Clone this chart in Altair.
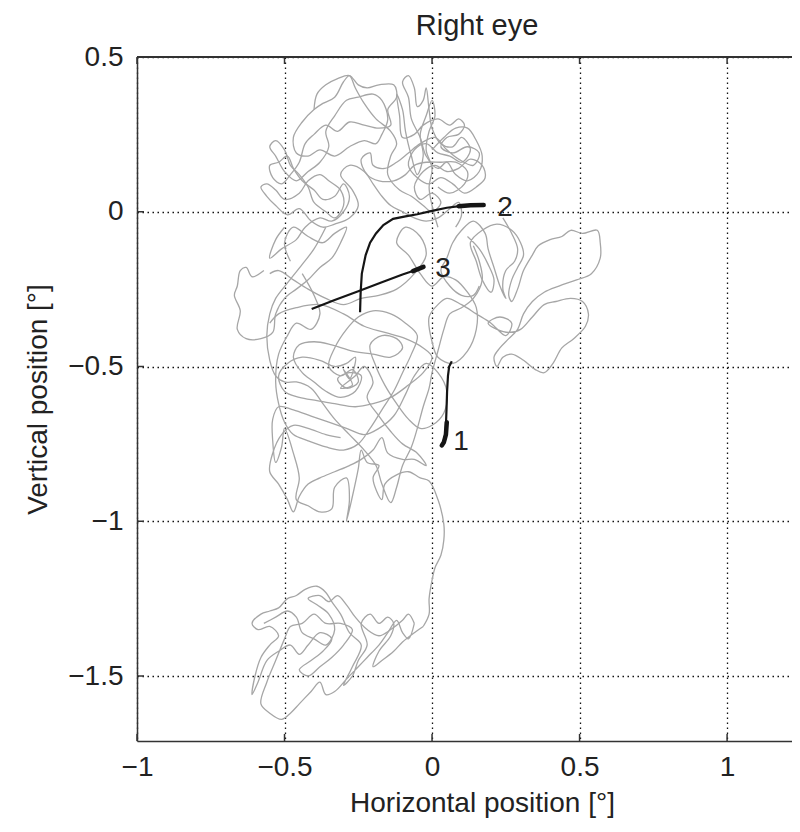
import altair as alt
import pandas as pd

# ---------------- data (degrees) ----------------
x_ticks = [-1, -0.5, 0, 0.5, 1]
y_ticks = [-1.5, -1, -0.5, 0, 0.5]
title_text = ["Right eye"]

# grey fixational eye-movement trace, read region by region
gray_top = [
    (0.0, 0.2), (0.04, 0.24), (0.08, 0.27), (0.12, 0.27), (0.15, 0.23), (0.17, 0.18), (0.16, 0.13),
    (0.12, 0.10), (0.08, 0.12), (0.05, 0.16), (0.02, 0.14), (-0.02, 0.18), (-0.04, 0.24), (-0.07, 0.30),
    (-0.08, 0.37), (-0.10, 0.42), (-0.08, 0.44), (-0.06, 0.40), (-0.05, 0.34), (-0.03, 0.36), (-0.02, 0.40),
    (-0.01, 0.33), (0.0, 0.27), (0.03, 0.22), (0.07, 0.21), (0.10, 0.24), (0.13, 0.20), (0.10, 0.16),
    (0.06, 0.18), (0.02, 0.19), (-0.02, 0.22), (-0.06, 0.20), (-0.08, 0.15), (-0.05, 0.11), (-0.01, 0.09),
    (0.03, 0.11), (0.07, 0.09), (0.11, 0.06), (0.15, 0.08), (0.18, 0.11), (0.17, 0.15), (0.13, 0.17),
    (0.09, 0.14), (0.05, 0.13), (0.01, 0.15), (-0.03, 0.13), (-0.06, 0.08), (-0.04, 0.04), (0.0, 0.06),
    (0.03, 0.03), (0.0, 0.0), (-0.03, 0.02), (-0.07, 0.05), (-0.11, 0.07), (-0.15, 0.12), (-0.14, 0.18),
    (-0.12, 0.22), (-0.14, 0.26), (-0.19, 0.30), (-0.23, 0.35), (-0.26, 0.40), (-0.28, 0.44), (-0.30, 0.42),
    (-0.33, 0.37), (-0.37, 0.35), (-0.40, 0.33), (-0.44, 0.29), (-0.47, 0.24), (-0.46, 0.19), (-0.42, 0.18),
    (-0.38, 0.20), (-0.33, 0.18), (-0.28, 0.21), (-0.23, 0.23), (-0.19, 0.22), (-0.17, 0.25), (-0.15, 0.30),
    (-0.17, 0.36), (-0.20, 0.38), (-0.25, 0.37), (-0.29, 0.36), (-0.33, 0.31), (-0.36, 0.26), (-0.35, 0.21),
    (-0.38, 0.16), (-0.42, 0.13), (-0.46, 0.10), (-0.50, 0.13), (-0.53, 0.18), (-0.55, 0.21), (-0.53, 0.23),
    (-0.50, 0.20), (-0.48, 0.15), (-0.45, 0.12), (-0.42, 0.08), (-0.40, 0.03), (-0.36, 0.00), (-0.33, -0.02),
    (-0.30, 0.02), (-0.31, 0.07), (-0.35, 0.10), (-0.38, 0.12), (-0.42, 0.10), (-0.45, 0.06), (-0.50, 0.04),
    (-0.53, 0.07), (-0.56, 0.09), (-0.58, 0.08), (-0.56, 0.05), (-0.53, 0.02), (-0.49, -0.01), (-0.45, 0.01),
    (-0.41, -0.03), (-0.37, -0.05), (-0.33, -0.04), (-0.28, -0.02), (-0.25, 0.02), (-0.27, 0.07),
    (-0.31, 0.12), (-0.28, 0.15), (-0.23, 0.13), (-0.20, 0.09), (-0.17, 0.05), (-0.14, 0.02), (-0.10, 0.00),
    (-0.06, -0.02), (-0.02, -0.03), (0.02, -0.02), (0.06, 0.01), (0.09, 0.03), (0.10, -0.01), (0.08, -0.05),
]
gray_top_dense = [
    (0.02, -0.05), (0.0, 0.02), (-0.01, 0.08), (0.0, 0.14), (-0.02, 0.2), (-0.01, 0.26), (0.01, 0.31),
    (0.0, 0.36), (-0.02, 0.31), (-0.04, 0.25), (-0.03, 0.18), (-0.05, 0.12), (-0.07, 0.18), (-0.09, 0.26),
    (-0.10, 0.33), (-0.12, 0.38), (-0.11, 0.31), (-0.10, 0.24), (-0.06, 0.25), (-0.03, 0.28), (0.02, 0.30),
    (0.06, 0.28), (0.09, 0.30), (0.11, 0.28), (0.09, 0.25), (0.05, 0.24), (0.03, 0.21), (0.07, 0.19),
    (0.12, 0.21), (0.16, 0.19), (0.14, 0.15), (0.09, 0.17), (0.05, 0.20), (0.01, 0.24), (-0.04, 0.22),
    (-0.08, 0.19), (-0.12, 0.16), (-0.16, 0.14), (-0.20, 0.15), (-0.21, 0.19), (-0.24, 0.17), (-0.22, 0.12),
    (-0.18, 0.10), (-0.13, 0.10), (-0.09, 0.12), (-0.06, 0.15), (-0.02, 0.16), (0.03, 0.16), (0.08, 0.16),
    (0.12, 0.13), (0.11, 0.09), (0.06, 0.06), (0.02, 0.08),
]
gray_top_outline = [
    (-0.40, 0.33), (-0.39, 0.38), (-0.36, 0.41), (-0.32, 0.43), (-0.28, 0.44), (-0.25, 0.41), (-0.22, 0.40),
    (-0.18, 0.41), (-0.13, 0.41), (-0.12, 0.37), (-0.15, 0.33), (-0.14, 0.28), (-0.18, 0.27), (-0.23, 0.28),
    (-0.28, 0.29), (-0.32, 0.26), (-0.36, 0.28), (-0.40, 0.25), (-0.43, 0.22), (-0.45, 0.16), (-0.48, 0.12),
    (-0.51, 0.09), (-0.54, 0.11), (-0.55, 0.15), (-0.52, 0.16), (-0.49, 0.18), (-0.47, 0.14), (-0.44, 0.10),
    (-0.40, 0.07), (-0.37, 0.04), (-0.33, 0.05), (-0.30, 0.09), (-0.28, 0.05), (-0.30, 0.0), (-0.34, -0.03),
    (-0.38, -0.02), (-0.43, -0.05), (-0.46, -0.09), (-0.51, -0.12), (-0.55, -0.15), (-0.53, -0.09),
    (-0.50, -0.05),
]
gray_right = [
    (0.12, -0.08), (0.16, -0.12), (0.19, -0.17), (0.21, -0.22), (0.20, -0.26), (0.17, -0.22), (0.15, -0.16),
    (0.13, -0.10), (0.17, -0.06), (0.22, -0.04), (0.27, -0.06), (0.30, -0.10), (0.31, -0.14), (0.29, -0.18),
    (0.27, -0.22), (0.26, -0.27), (0.27, -0.29), (0.29, -0.25), (0.31, -0.19), (0.34, -0.14), (0.36, -0.11),
    (0.40, -0.09), (0.44, -0.08), (0.47, -0.06), (0.51, -0.07), (0.56, -0.06), (0.57, -0.10), (0.57, -0.15),
    (0.54, -0.20), (0.49, -0.22), (0.43, -0.24), (0.38, -0.26), (0.34, -0.29), (0.31, -0.33), (0.29, -0.38),
    (0.26, -0.41), (0.23, -0.44), (0.21, -0.47), (0.22, -0.50), (0.24, -0.47), (0.27, -0.46), (0.31, -0.48),
    (0.35, -0.51), (0.38, -0.52), (0.41, -0.49), (0.44, -0.44), (0.48, -0.41), (0.52, -0.37), (0.53, -0.33),
    (0.51, -0.29), (0.47, -0.28), (0.42, -0.29), (0.38, -0.30), (0.34, -0.34), (0.30, -0.38), (0.26, -0.39),
    (0.22, -0.38), (0.19, -0.36), (0.23, -0.34), (0.27, -0.36), (0.25, -0.40), (0.20, -0.36), (0.15, -0.33),
    (0.10, -0.30), (0.05, -0.28), (0.02, -0.30), (-0.01, -0.34), (0.0, -0.42), (0.02, -0.47), (0.07, -0.49),
    (0.12, -0.45), (0.15, -0.38), (0.15, -0.31), (0.12, -0.26), (0.08, -0.22), (0.04, -0.21), (0.0, -0.24),
    (-0.04, -0.20), (-0.08, -0.14), (-0.12, -0.10), (-0.09, -0.05), (-0.04, -0.08), (-0.02, -0.14),
    (-0.06, -0.20), (-0.12, -0.25), (-0.18, -0.27), (-0.24, -0.28), (-0.30, -0.30), (-0.36, -0.28),
    (-0.42, -0.25), (-0.47, -0.22), (-0.52, -0.19), (-0.55, -0.20),
]
gray_right_strokes = [
    (0.24, -0.02), (0.27, -0.07), (0.29, -0.12), (0.28, -0.16), (0.25, -0.19), (0.24, -0.25), (0.25, -0.28),
    (0.23, -0.24), (0.21, -0.18), (0.19, -0.12), (0.18, -0.07), (0.14, -0.03), (0.10, -0.06), (0.07, -0.10),
    (0.05, -0.15), (0.03, -0.19), (0.06, -0.24), (0.10, -0.27), (0.14, -0.27), (0.16, -0.24),
]
gray_left = [
    (-0.57, -0.19), (-0.61, -0.21), (-0.63, -0.18), (-0.65, -0.19), (-0.66, -0.24), (-0.67, -0.27),
    (-0.65, -0.32), (-0.66, -0.38), (-0.63, -0.41), (-0.58, -0.41), (-0.54, -0.39), (-0.53, -0.33),
    (-0.50, -0.28), (-0.46, -0.25), (-0.42, -0.22), (-0.38, -0.18), (-0.34, -0.15), (-0.31, -0.10),
    (-0.29, -0.05), (-0.33, -0.07), (-0.37, -0.10), (-0.42, -0.08), (-0.47, -0.05), (-0.50, -0.10),
    (-0.48, -0.16),
]
gray_middle = [
    (-0.44, -0.20), (-0.40, -0.27), (-0.38, -0.33), (-0.41, -0.38), (-0.46, -0.36), (-0.49, -0.40),
    (-0.52, -0.46), (-0.53, -0.55), (-0.52, -0.62), (-0.50, -0.68), (-0.47, -0.72), (-0.42, -0.74),
    (-0.36, -0.76), (-0.30, -0.77), (-0.25, -0.75), (-0.21, -0.70), (-0.17, -0.64), (-0.13, -0.58),
    (-0.10, -0.52), (-0.07, -0.46), (-0.05, -0.40), (-0.09, -0.36), (-0.14, -0.33), (-0.20, -0.32),
    (-0.25, -0.34), (-0.29, -0.38), (-0.33, -0.44), (-0.35, -0.50), (-0.31, -0.53), (-0.27, -0.51),
    (-0.25, -0.55), (-0.29, -0.57), (-0.32, -0.54), (-0.28, -0.52), (-0.24, -0.53), (-0.26, -0.58),
    (-0.31, -0.60), (-0.36, -0.58), (-0.40, -0.55), (-0.44, -0.52), (-0.47, -0.47), (-0.45, -0.43),
    (-0.40, -0.42), (-0.34, -0.43), (-0.27, -0.45), (-0.20, -0.46), (-0.14, -0.47), (-0.10, -0.44),
    (-0.12, -0.41), (-0.17, -0.40), (-0.21, -0.43), (-0.19, -0.50), (-0.16, -0.56), (-0.12, -0.62),
    (-0.08, -0.67), (-0.04, -0.70), (0.00, -0.69), (0.04, -0.65), (0.05, -0.58), (0.02, -0.52),
    (-0.02, -0.49), (-0.06, -0.53), (-0.09, -0.59), (-0.13, -0.66), (-0.18, -0.70), (-0.23, -0.72),
    (-0.29, -0.70), (-0.35, -0.68), (-0.41, -0.66), (-0.47, -0.64), (-0.52, -0.63), (-0.54, -0.67),
    (-0.54, -0.74), (-0.53, -0.81), (-0.51, -0.76), (-0.50, -0.70), (-0.47, -0.78), (-0.45, -0.86),
    (-0.46, -0.93), (-0.42, -0.95), (-0.38, -0.97), (-0.34, -0.96), (-0.33, -0.89), (-0.29, -0.86),
    (-0.28, -0.93), (-0.29, -1.00), (-0.27, -0.92), (-0.25, -0.83), (-0.24, -0.77), (-0.22, -0.81),
    (-0.18, -0.82), (-0.20, -0.86), (-0.17, -0.93), (-0.16, -0.88), (-0.12, -0.85), (-0.08, -0.84),
    (-0.04, -0.86), (-0.01, -0.87), (0.02, -0.93), (0.04, -1.01), (0.04, -1.06), (0.03, -1.11),
    (0.01, -1.15), (0.0, -1.19), (-0.01, -1.25), (-0.01, -1.30), (-0.03, -1.34),
]
gray_middle_arcs = [
    (-0.55, -0.36), (-0.52, -0.33), (-0.46, -0.31), (-0.38, -0.30), (-0.30, -0.33), (-0.23, -0.37),
    (-0.16, -0.39), (-0.09, -0.41), (-0.03, -0.44), (0.0, -0.47), (-0.03, -0.52), (-0.08, -0.56),
    (-0.14, -0.60), (-0.20, -0.62), (-0.26, -0.63), (-0.33, -0.62), (-0.39, -0.61), (-0.45, -0.60),
    (-0.50, -0.58), (-0.52, -0.53), (-0.49, -0.49), (-0.44, -0.47), (-0.38, -0.48), (-0.33, -0.50),
    (-0.29, -0.49), (-0.26, -0.47), (-0.28, -0.54), (-0.30, -0.51), (-0.27, -0.56), (-0.31, -0.57),
    (-0.26, -0.53), (-0.23, -0.50), (-0.20, -0.55), (-0.22, -0.60), (-0.18, -0.66), (-0.14, -0.71),
    (-0.10, -0.75), (-0.05, -0.78), (-0.02, -0.82), (-0.06, -0.80), (-0.10, -0.80), (-0.15, -0.78),
    (-0.17, -0.73), (-0.20, -0.77), (-0.24, -0.80), (-0.28, -0.82), (-0.33, -0.84), (-0.38, -0.86),
    (-0.42, -0.88), (-0.45, -0.92), (-0.47, -0.97), (-0.49, -0.93), (-0.52, -0.88), (-0.55, -0.84),
    (-0.54, -0.78), (-0.51, -0.72), (-0.47, -0.69), (-0.42, -0.70), (-0.36, -0.72), (-0.31, -0.73),
]
gray_middle_long = [
    (-0.36, -0.05), (-0.40, -0.12), (-0.44, -0.17), (-0.49, -0.23), (-0.53, -0.28), (-0.55, -0.33),
    (-0.56, -0.40), (-0.55, -0.48), (-0.53, -0.53), (-0.50, -0.55), (-0.46, -0.55), (-0.41, -0.57),
    (-0.37, -0.62), (-0.33, -0.67), (-0.28, -0.72), (-0.23, -0.77), (-0.19, -0.82), (-0.17, -0.88),
    (-0.14, -0.94), (-0.12, -0.89), (-0.10, -0.82), (-0.07, -0.76), (-0.05, -0.70), (-0.03, -0.63),
    (-0.01, -0.57), (0.0, -0.52), (0.02, -0.45), (0.04, -0.38), (0.06, -0.33), (0.10, -0.31),
    (0.14, -0.28), (0.17, -0.22), (0.16, -0.16), (0.14, -0.11),
]
gray_bottom = [
    (-0.03, -1.34), (-0.06, -1.36), (-0.10, -1.39), (-0.13, -1.42), (-0.17, -1.45), (-0.20, -1.47),
    (-0.18, -1.42), (-0.14, -1.37), (-0.13, -1.33), (-0.15, -1.31), (-0.18, -1.33), (-0.21, -1.30),
    (-0.24, -1.33), (-0.22, -1.40), (-0.25, -1.45), (-0.27, -1.50), (-0.30, -1.53), (-0.27, -1.47),
    (-0.24, -1.40), (-0.28, -1.36), (-0.31, -1.30), (-0.34, -1.26), (-0.36, -1.23), (-0.39, -1.21),
    (-0.43, -1.22), (-0.46, -1.24), (-0.49, -1.25), (-0.52, -1.28), (-0.55, -1.29), (-0.58, -1.30),
    (-0.61, -1.33), (-0.59, -1.35), (-0.55, -1.34), (-0.52, -1.37), (-0.55, -1.40), (-0.58, -1.44),
    (-0.60, -1.50), (-0.61, -1.56), (-0.59, -1.52), (-0.56, -1.45), (-0.52, -1.42), (-0.48, -1.40),
    (-0.45, -1.43), (-0.42, -1.40), (-0.38, -1.36), (-0.34, -1.38), (-0.37, -1.42), (-0.41, -1.45),
    (-0.45, -1.48), (-0.42, -1.50), (-0.38, -1.47), (-0.34, -1.44), (-0.30, -1.40), (-0.27, -1.35),
    (-0.31, -1.33), (-0.36, -1.33), (-0.40, -1.30), (-0.44, -1.33), (-0.48, -1.34), (-0.50, -1.38),
    (-0.53, -1.45), (-0.56, -1.52), (-0.58, -1.59), (-0.55, -1.62), (-0.51, -1.64), (-0.48, -1.62),
    (-0.45, -1.59), (-0.41, -1.55), (-0.38, -1.52), (-0.36, -1.56), (-0.33, -1.55), (-0.29, -1.51),
    (-0.25, -1.47), (-0.22, -1.44), (-0.18, -1.40), (-0.15, -1.36), (-0.12, -1.32), (-0.10, -1.36),
    (-0.08, -1.38), (-0.06, -1.33),
]
gray_bottom_upper = [
    (-0.57, -1.33), (-0.53, -1.31), (-0.49, -1.29), (-0.46, -1.31), (-0.44, -1.36), (-0.40, -1.38),
    (-0.36, -1.40), (-0.33, -1.35), (-0.35, -1.30), (-0.39, -1.27), (-0.42, -1.25), (-0.38, -1.24),
    (-0.35, -1.26), (-0.32, -1.24), (-0.29, -1.27), (-0.26, -1.31), (-0.22, -1.35), (-0.18, -1.37),
    (-0.14, -1.35), (-0.10, -1.32), (-0.08, -1.30), (-0.06, -1.33),
]
gray_segments = {
    "top": gray_top, "top_dense": gray_top_dense, "top_outline": gray_top_outline,
    "right": gray_right, "right_strokes": gray_right_strokes, "left": gray_left,
    "middle": gray_middle, "middle_arcs": gray_middle_arcs, "middle_long": gray_middle_long,
    "bottom": gray_bottom, "bottom_upper": gray_bottom_upper,
}

# black traces (numbered fixations 1-3) and their thicker end parts
trace1 = [(0.067, -0.483), (0.058, -0.50), (0.054, -0.53), (0.051, -0.58), (0.049, -0.64),
          (0.047, -0.69), (0.045, -0.72), (0.038, -0.745), (0.033, -0.755)]
trace1_end = [(0.050, -0.68), (0.047, -0.72), (0.040, -0.745), (0.033, -0.755)]
trace2 = [(-0.244, -0.325), (-0.242, -0.26), (-0.238, -0.20), (-0.225, -0.14), (-0.21, -0.10),
          (-0.19, -0.07), (-0.165, -0.043), (-0.132, -0.023), (-0.09, -0.015), (-0.05, -0.008),
          (0.0, 0.003), (0.05, 0.013), (0.10, 0.019), (0.14, 0.022), (0.175, 0.022)]
trace2_end = [(0.09, 0.018), (0.13, 0.021), (0.175, 0.022)]
trace3 = [(-0.408, -0.314), (-0.33, -0.285), (-0.25, -0.257), (-0.17, -0.228), (-0.10, -0.203),
          (-0.06, -0.19), (-0.029, -0.178)]
trace3_end = [(-0.065, -0.192), (-0.029, -0.178)]

labels = ["1", "2", "3"]
label_x = [0.098, 0.247, 0.037]
label_y = [-0.743, 0.013, -0.184]

# ---------------- build tables ----------------
def path_df(pts, name):
    return pd.DataFrame({"x": [p[0] for p in pts], "y": [p[1] for p in pts],
                         "i": list(range(len(pts))), "g": name})

gray_df = pd.concat([path_df(v, k) for k, v in gray_segments.items()])
traces_df = pd.concat([path_df(trace1, "t1"), path_df(trace2, "t2"), path_df(trace3, "t3")])
ends_df = pd.concat([path_df(trace1_end, "e1"), path_df(trace2_end, "e2"), path_df(trace3_end, "e3")])
lab_df = pd.DataFrame({"x": label_x, "y": label_y, "t": labels})
xt_df = pd.DataFrame({"x": x_ticks})
yt_df = pd.DataFrame({"y": y_ticks})
title_df = pd.DataFrame({"t": title_text})

W, H = 655, 684
F = "Liberation Sans"
TXT = "#222222"

xs = alt.Scale(domain=[-1, 1.22], nice=False, zero=False)
ys = alt.Scale(domain=[-1.71, 0.5], nice=False, zero=False)

common = dict(format="~g", grid=True, gridDash=[1.5, 3.5], gridColor="#111111", gridWidth=1.3,
              ticks=False, domain=True, domainColor="#333333", domainWidth=1.5,
              labelFont=F, labelFontSize=28, labelColor=TXT, labelFlush=False, labelOverlap=False,
              titleFont=F, titleFontSize=28, titleFontWeight="normal", titleColor=TXT,
              titleBaseline="middle", titleAlign="center")
xaxis = alt.Axis(values=x_ticks, labelPadding=12, title="Horizontal position [°]",
                 titleX=345, titleY=62, **common)
yaxis = alt.Axis(values=y_ticks, labelPadding=14, title="Vertical position [°]",
                 titleAngle=270, titleX=-99, titleY=342, **common)

X = alt.X("x:Q", scale=xs, axis=xaxis)
Y = alt.Y("y:Q", scale=ys, axis=yaxis)

gray_layer = alt.Chart(gray_df).mark_line(
    color="#a6a6a6", strokeWidth=1.3, strokeJoin="round", interpolate="catmull-rom"
).encode(x=X, y=Y, detail="g:N", order="i:Q")
trace_layer = alt.Chart(traces_df).mark_line(color="#151515", strokeWidth=2.2).encode(
    x=X, y=Y, detail="g:N", order="i:Q")
end_layer = alt.Chart(ends_df).mark_line(color="#151515", strokeWidth=4.5, strokeCap="round").encode(
    x=X, y=Y, detail="g:N", order="i:Q")
lab_layer = alt.Chart(lab_df).mark_text(font=F, fontSize=28, color=TXT, align="center",
                                        baseline="middle").encode(x=X, y=Y, text="t:N")

tick_len = 7
xt_bottom = alt.Chart(xt_df).mark_rule(color="#333333", strokeWidth=1.5).encode(
    x=X, y=alt.value(H), y2=alt.value(H - tick_len))
xt_top = alt.Chart(xt_df).mark_rule(color="#333333", strokeWidth=1.5).encode(
    x=X, y=alt.value(0), y2=alt.value(tick_len))
yt_left = alt.Chart(yt_df).mark_rule(color="#333333", strokeWidth=1.5).encode(
    y=Y, x=alt.value(0), x2=alt.value(tick_len))
top_border = alt.Chart(xt_df).mark_rule(color="#333333", strokeWidth=1.5).encode(
    x=alt.value(0), x2=alt.value(W), y=alt.value(0))

# chart title drawn as a text mark above the plot frame
title_layer = alt.Chart(title_df).mark_text(
    font=F, fontSize=29, color=TXT, align="center", baseline="alphabetic"
).encode(x=alt.value(340), y=alt.value(-22), text="t:N")

chart = alt.layer(
    gray_layer, trace_layer, end_layer, lab_layer, xt_bottom, xt_top, yt_left, top_border, title_layer
).properties(
    width=W, height=H,
    autosize=alt.AutoSizeParams(type="none"),
    padding={"left": 129, "top": 49, "right": 0, "bottom": 80},
).configure_view(stroke=None).configure(background="white")

chart.save("out.html", embed_options={"renderer": "svg", "actions": False})
